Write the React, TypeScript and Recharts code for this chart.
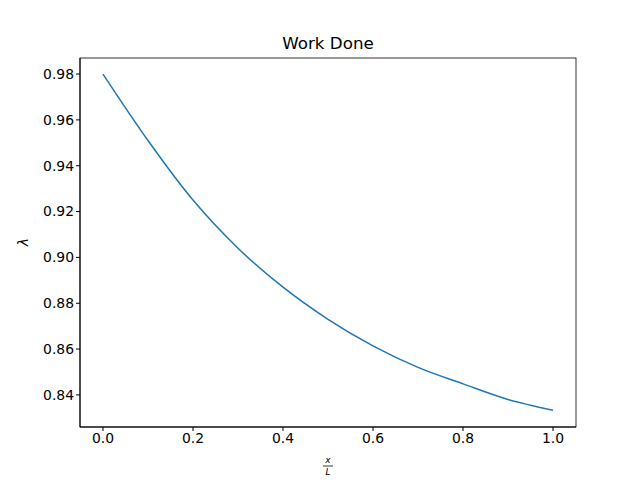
import { LineChart, Line, XAxis, YAxis } from "recharts";

const xs = [0, 0.1, 0.2, 0.3, 0.4, 0.5, 0.6, 0.7, 0.8, 0.9, 1.0];
const lambda = [0.98, 0.951, 0.925, 0.904, 0.887, 0.873, 0.8614, 0.852, 0.8448, 0.838, 0.8333];
const xTicks = [0, 0.2, 0.4, 0.6, 0.8, 1.0];
const yTicks = [0.84, 0.86, 0.88, 0.9, 0.92, 0.94, 0.96, 0.98];

const data = xs.map((x, i) => ({ x, y: lambda[i] }));
const font = "DejaVu Sans";
const tick = { fill: "#000", fontSize: 13.9, fontFamily: font };

export default function App() {
  return (
    <div style={{ position: "absolute", left: 0, top: 0, width: 640, height: 480, background: "#fff" }}>
      <LineChart width={640} height={480} data={data} margin={{ top: 58, right: 64, left: 0, bottom: 0 }}>
        <XAxis
          dataKey="x"
          type="number"
          domain={[-0.0511, 1.0511]}
          ticks={xTicks}
          tickFormatter={(v) => v.toFixed(1)}
          tick={tick}
          tickSize={4}
          height={53}
          stroke="#000"
          allowDataOverflow
        />
        <YAxis
          type="number"
          domain={[0.826, 0.987]}
          ticks={yTicks}
          tickFormatter={(v) => v.toFixed(2)}
          tick={tick}
          tickSize={4}
          width={80}
          stroke="#000"
          allowDataOverflow
        />
        <Line dataKey="y" type="monotone" stroke="#1f77b4" strokeWidth={1.5} dot={false} isAnimationActive={false} />
        {/* plot frame */}
        <rect x={80} y={58} width={496} height={369} fill="none" stroke="#000" strokeWidth={0.8} />
        <text x={328} y={49} textAnchor="middle" fontSize={16.7} fontFamily={font}>Work Done</text>
        <text x={28} y={242} textAnchor="middle" fontSize={13.9} fontFamily={font} fontStyle="italic" transform="rotate(-90 28 242)">λ</text>
        <text x={328} y={463} textAnchor="middle" fontSize={9} fontFamily={font} fontStyle="italic">x</text>
        <line x1={323} x2={333} y1={466} y2={466} stroke="#000" strokeWidth={0.8} />
        <text x={328} y={475} textAnchor="middle" fontSize={9} fontFamily={font} fontStyle="italic">L</text>
      </LineChart>
    </div>
  );
}
